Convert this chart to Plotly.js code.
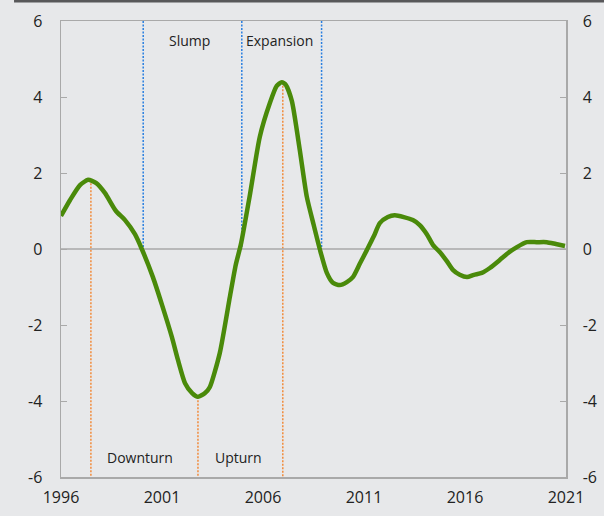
<!DOCTYPE html>
<html>
<head>
<meta charset="utf-8">
<script src="https://cdn.plot.ly/plotly-3.0.1.min.js"></script>
<style>html,body{margin:0;padding:0;background:#e7e8ea;}#chart{width:604px;height:516px;}</style>
</head>
<body>
<div id="chart"></div>
<script>
const years = [1996.00,1996.45,1996.94,1997.34,1997.73,1998.18,1998.72,1999.17,1999.66,2000.00,2000.55,2001.00,2001.49,2001.79,2002.14,2002.49,2002.78,2003.13,2003.37,2003.86,2004.36,2004.65,2004.90,2005.35,2005.84,2006.34,2006.68,2006.93,2007.13,2007.43,2007.82,2008.17,2008.51,2008.81,2009.16,2009.46,2009.80,2010.15,2010.45,2010.79,2011.14,2011.49,2011.78,2012.18,2012.52,2012.97,2013.42,2013.76,2014.11,2014.41,2014.75,2015.10,2015.40,2015.74,2016.10,2016.44,2016.83,2017.23,2017.72,2018.12,2018.57,2019.06,2019.55,2020.05,2020.50,2020.95];
const values = [0.87,1.29,1.68,1.82,1.74,1.47,1.00,0.76,0.39,0.00,-0.74,-1.47,-2.32,-2.92,-3.53,-3.79,-3.89,-3.79,-3.63,-2.74,-1.26,-0.42,0.11,1.42,2.95,3.84,4.29,4.39,4.32,3.89,2.61,1.37,0.63,0.00,-0.63,-0.89,-0.95,-0.87,-0.74,-0.39,-0.03,0.34,0.68,0.84,0.89,0.84,0.76,0.63,0.39,0.11,-0.08,-0.32,-0.55,-0.68,-0.74,-0.68,-0.63,-0.50,-0.29,-0.11,0.05,0.18,0.18,0.18,0.13,0.08];
// turning points (orange, from curve down to axis) and phase boundaries (blue, from top down to zero)
const turnDates = [1997.48, 2002.78, 2006.98];
const turnValues = [1.82, -3.89, 4.39];
const phaseDates = [2000.07, 2004.95, 2008.9];
const phaseLabels = ["Slump", "Expansion"];
const phaseLabelX = [2002.34, 2006.84];
const turnLabels = ["Downturn", "Upturn"];
const turnLabelX = [1999.9, 2004.8];
const yTicks = [-6,-4,-2,0,2,4,6];
const xTicks = [1996,2001,2006,2011,2016,2021];

const shapes = [];
turnDates.forEach((d,i)=>shapes.push({type:'line',xref:'x',yref:'y',x0:d,x1:d,y0:turnValues[i],y1:-6,line:{color:'#f28a3a',width:1.5,dash:'2px,1.5px'},layer:'below'}));
phaseDates.forEach(d=>shapes.push({type:'line',xref:'x',yref:'y',x0:d,x1:d,y0:6,y1:0,line:{color:'#2a7fe0',width:1.5,dash:'2px,1.5px'},layer:'below'}));
shapes.push({type:'line',xref:'x',yref:'y',x0:1996,x1:2021,y0:0,y1:0,line:{color:'#a9a9a9',width:1.5},layer:'below'});
shapes.push({type:'line',xref:'paper',yref:'paper',x0:-0.093,x1:1.08,y0:1.044,y1:1.044,line:{color:'#58585a',width:3}});

const annotations = [];
phaseLabels.forEach((t,i)=>annotations.push({x:phaseLabelX[i],y:5.5,xref:'x',yref:'y',text:t,showarrow:false,font:{size:14,color:'#222'}}));
turnLabels.forEach((t,i)=>annotations.push({x:turnLabelX[i],y:-5.48,xref:'x',yref:'y',text:t,showarrow:false,font:{size:14,color:'#222'}}));

const data = [
  {x:years,y:values,type:'scatter',mode:'lines',line:{color:'#4a8a0a',width:4.5,shape:'spline',smoothing:0.6},hoverinfo:'skip'},
  {x:[1996,2021],y:[0,0],yaxis:'y2',type:'scatter',mode:'lines',line:{width:0},hoverinfo:'skip',showlegend:false}
];
const axisFont = {family:'Open Sans, sans-serif',size:16,color:'#222'};
const layout = {
  width:604,height:516,
  margin:{l:61,r:38,t:21,b:39},
  paper_bgcolor:'#e7e8ea',plot_bgcolor:'#e7e8ea',
  showlegend:false,
  font:{family:'Open Sans, sans-serif',color:'#222'},
  xaxis:{range:[1996,2021],tickvals:xTicks,ticktext:xTicks.map(String),showgrid:false,zeroline:false,showline:true,linecolor:'#a9a9a9',linewidth:1.5,mirror:true,ticks:'',tickfont:axisFont,ticklabelstandoff:5},
  yaxis:{range:[-6,6],tickvals:yTicks,ticktext:yTicks.map(String),showgrid:false,zeroline:false,showline:true,linecolor:'#a9a9a9',linewidth:1.5,ticks:'inside',ticklen:6,tickcolor:'#a9a9a9',tickfont:axisFont,ticklabelstandoff:14},
  yaxis2:{range:[-6,6],overlaying:'y',side:'right',tickvals:yTicks,ticktext:yTicks.map(String),showgrid:false,zeroline:false,showline:true,linecolor:'#a9a9a9',linewidth:1.5,ticks:'inside',ticklen:6,tickcolor:'#a9a9a9',tickfont:axisFont,ticklabelstandoff:12},
  shapes:shapes,
  annotations:annotations
};
Plotly.newPlot('chart',data,layout,{displayModeBar:false,staticPlot:true});
</script>
</body>
</html>
